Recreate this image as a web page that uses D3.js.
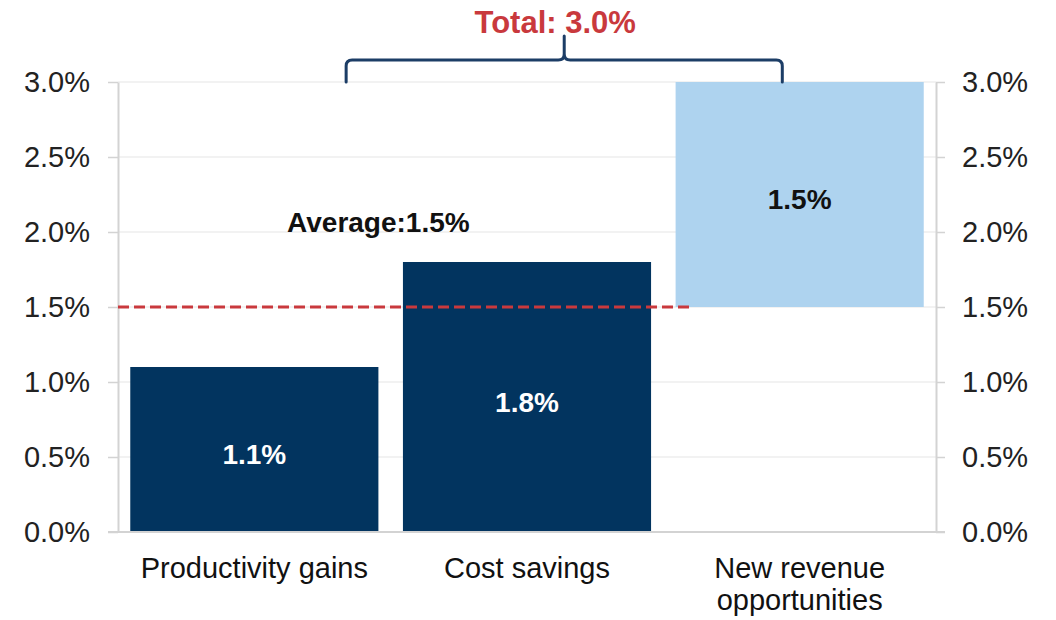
<!DOCTYPE html>
<html>
<head>
<meta charset="utf-8">
<script src="https://cdn.jsdelivr.net/npm/d3@7"></script>
<style>
  html, body { margin: 0; padding: 0; background: #ffffff; }
  svg { display: block; font-family: "Liberation Sans", Arial, sans-serif; }
</style>
</head>
<body>
<svg id="chart" width="1056" height="620"></svg>
<script>
// Contribution of each source of value, in percentage points
const categories = ["Productivity gains", "Cost savings", "New revenue opportunities"];
const categoryLines = [["Productivity gains"], ["Cost savings"], ["New revenue", "opportunities"]];
const barValues = [1.1, 1.8, 1.5];
const averageValue = 1.5;
// The third bar sits on top of the average line
const barBases = [0, 0, averageValue];
const totalValue = 3.0;
const yTicks = [0, 0.5, 1.0, 1.5, 2.0, 2.5, 3.0];

const navy = "#02345f";
const lightBlue = "#aed3ef";
const red = "#c9393d";
const axisGrey = "#d3d3d3";

const svg = d3.select("#chart");
const fmt = v => v.toFixed(1) + "%";

const x = d3.scaleBand()
  .domain(categories)
  .range([118, 936])
  .paddingInner(0.09)
  .paddingOuter(0.045);

const y = d3.scaleLinear().domain([0, 3]).range([532, 82]);

// Horizontal gridlines
svg.append("g")
  .selectAll("line")
  .data(yTicks.filter(d => d > 0))
  .join("line")
  .attr("x1", x.range()[0])
  .attr("x2", x.range()[1])
  .attr("y1", d => y(d))
  .attr("y2", d => y(d))
  .attr("stroke", "#eeeeee")
  .attr("stroke-width", 1.5);

// Bars
const bars = categories.map((c, i) => ({ cat: c, base: barBases[i], value: barValues[i], i }));
svg.append("g")
  .selectAll("rect")
  .data(bars)
  .join("rect")
  .attr("x", d => x(d.cat))
  .attr("width", x.bandwidth())
  .attr("y", d => y(d.base + d.value))
  .attr("height", d => y(d.base) - y(d.base + d.value))
  .attr("fill", d => d.i < 2 ? navy : lightBlue);

// Value labels inside bars
svg.append("g")
  .selectAll("text")
  .data(bars)
  .join("text")
  .attr("x", d => x(d.cat) + x.bandwidth() / 2)
  .attr("y", d => (y(d.base) + y(d.base + d.value)) / 2 + 5)
  .attr("dy", "0.35em")
  .attr("text-anchor", "middle")
  .attr("font-size", 28)
  .attr("font-weight", "bold")
  .attr("fill", d => d.i < 2 ? "#ffffff" : "#111111")
  .text(d => fmt(d.value));

// Axes
function styleAxis(g) {
  g.select(".domain").attr("stroke", axisGrey).attr("stroke-width", 2);
  g.selectAll(".tick line").attr("stroke", axisGrey).attr("stroke-width", 1.5);
  g.selectAll(".tick text")
    .attr("font-size", 29)
    .attr("fill", "#222222")
    .attr("font-family", "'Liberation Sans', Arial, sans-serif");
}

svg.append("g")
  .attr("transform", `translate(${x.range()[0]},0)`)
  .call(d3.axisLeft(y).tickValues(yTicks).tickFormat(fmt).tickSize(10).tickSizeOuter(0).tickPadding(18))
  .call(styleAxis);

svg.append("g")
  .attr("transform", `translate(${x.range()[1]},0)`)
  .call(d3.axisRight(y).tickValues(yTicks).tickFormat(fmt).tickSize(9).tickSizeOuter(0).tickPadding(17))
  .call(styleAxis);

// Baseline
svg.append("line")
  .attr("x1", x.range()[0] - 10)
  .attr("x2", x.range()[1] + 9)
  .attr("y1", y(0))
  .attr("y2", y(0))
  .attr("stroke", axisGrey)
  .attr("stroke-width", 2);

// Category labels
const catG = svg.append("g")
  .selectAll("text")
  .data(categories)
  .join("text")
  .attr("x", d => x(d) + x.bandwidth() / 2)
  .attr("y", y(0) + 46)
  .attr("text-anchor", "middle")
  .attr("font-size", 29)
  .attr("fill", "#111111");
catG.selectAll("tspan")
  .data((d, i) => categoryLines[i])
  .join("tspan")
  .attr("x", function () { return d3.select(this.parentNode).attr("x"); })
  .attr("dy", (d, j) => j === 0 ? 0 : 32)
  .text(d => d);

// Average line
svg.append("line")
  .attr("x1", x.range()[0])
  .attr("x2", x(categories[2]) + 14)
  .attr("y1", y(averageValue))
  .attr("y2", y(averageValue))
  .attr("stroke", red)
  .attr("stroke-width", 3)
  .attr("stroke-dasharray", "11 5");

svg.append("text")
  .attr("x", x(categories[0]) + x.bandwidth())
  .attr("y", y(2.0))
  .attr("text-anchor", "middle")
  .attr("font-size", 28)
  .attr("font-weight", "bold")
  .attr("fill", "#111111")
  .text("Average:" + fmt(averageValue));

// Brace spanning the total
const bx0 = x(categories[0]) + x.bandwidth() * 0.87;
const bx1 = x(categories[2]) + x.bandwidth() * 0.43;
const bxm = (bx0 + bx1) / 2;
const by0 = y(totalValue);
const byh = by0 - 22;
const byt = by0 - 46;
const r = 6;
const brace = d3.path();
brace.moveTo(bx0, by0);
brace.lineTo(bx0, byh + r);
brace.quadraticCurveTo(bx0, byh, bx0 + r, byh);
brace.lineTo(bxm - r, byh);
brace.quadraticCurveTo(bxm, byh, bxm, byh - r);
brace.lineTo(bxm, byt);
brace.moveTo(bxm, byh - r);
brace.quadraticCurveTo(bxm, byh, bxm + r, byh);
brace.lineTo(bx1 - r, byh);
brace.quadraticCurveTo(bx1, byh, bx1, byh + r);
brace.lineTo(bx1, by0);
svg.append("path")
  .attr("d", brace.toString())
  .attr("fill", "none")
  .attr("stroke", "#1c3d66")
  .attr("stroke-width", 3)
  .attr("stroke-linecap", "round")
  .attr("stroke-linejoin", "round");

svg.append("text")
  .attr("x", bxm - 9)
  .attr("y", 33)
  .attr("text-anchor", "middle")
  .attr("font-size", 31)
  .attr("font-weight", "bold")
  .attr("fill", red)
  .text("Total: " + fmt(totalValue));
</script>
</body>
</html>
